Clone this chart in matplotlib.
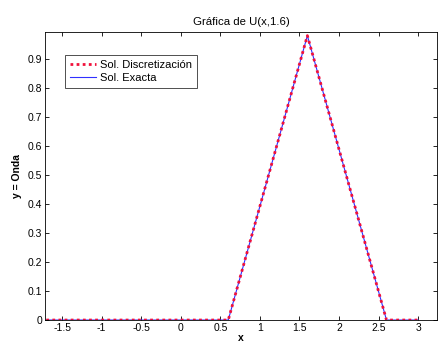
import numpy as np
import matplotlib.pyplot as plt

plt.rcParams['font.family'] = ['Liberation Sans', 'DejaVu Sans']

# U(x, 1.6): breakpoints of the travelling triangular pulse
x_pts = [-1.7, 0.6, 1.6, 2.6, 3.0]
u_disc = [0.0, 0.0, 0.98, 0.0, 0.0]
u_exact = [0.0, 0.0, 0.98, 0.0, 0.0]

x_ticks = [-1.5, -1, -0.5, 0, 0.5, 1, 1.5, 2, 2.5, 3]
x_ticklabels = ['-1.5', '-1', '-0.5', '0', '0.5', '1', '1.5', '2', '2.5', '3']
y_ticks = [0, 0.1, 0.2, 0.3, 0.4, 0.5, 0.6, 0.7, 0.8, 0.9]
y_ticklabels = ['0', '0.1', '0.2', '0.3', '0.4', '0.5', '0.6', '0.7', '0.8', '0.9']

fig = plt.figure(figsize=(4.42, 3.46), dpi=100)
ax = fig.add_axes([0.102, 0.075, 0.887, 0.833])

ax.plot(x_pts, u_exact, color='#3030ff', lw=0.8, label='Sol. Exacta', zorder=2)
ax.plot(x_pts, u_disc, color='#f0103a', lw=2.0, ls=(0, (1, 1.2)),
        label='Sol. Discretización', zorder=3)

ax.set_xlim(-1.715, 3.24)
ax.set_ylim(0, 0.993)
ax.set_xticks(x_ticks)
ax.set_xticklabels(x_ticklabels)
ax.set_yticks(y_ticks)
ax.set_yticklabels(y_ticklabels)
ax.tick_params(direction='in', top=True, right=True, labelsize=7.5,
               length=3, width=0.6, pad=2)
for s in ax.spines.values():
    s.set_linewidth(0.6)

ax.set_title('Gráfica de U(x,1.6)', fontsize=8.2, pad=5)
ax.set_xlabel('x', fontsize=7.5, fontweight='bold', labelpad=0)
ax.set_ylabel('y = Onda', fontsize=7.5, fontweight='bold', labelpad=4)

handles, labels = ax.get_legend_handles_labels()
leg = ax.legend(handles[::-1], labels[::-1], loc='upper left',
                bbox_to_anchor=(0.05, 0.92), borderaxespad=0, fontsize=8,
                frameon=True, fancybox=False, edgecolor='black',
                handlelength=2.4, handletextpad=0.3, borderpad=0.45,
                labelspacing=0.3)
leg.get_frame().set_linewidth(0.6)

fig.savefig('out.png', dpi=100)
